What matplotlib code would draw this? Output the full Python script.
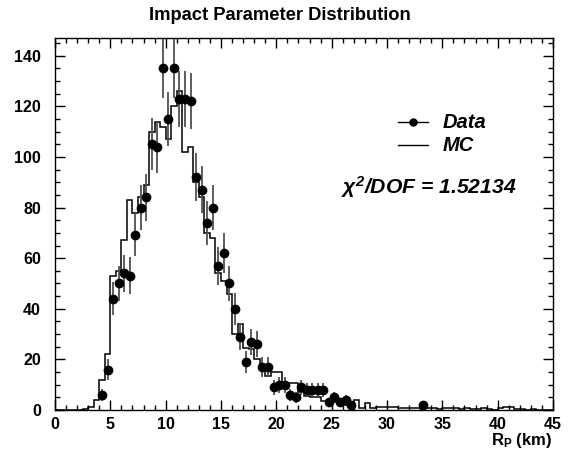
import numpy as np
import matplotlib
matplotlib.use("Agg")
import matplotlib.pyplot as plt
from matplotlib.ticker import MultipleLocator

plt.rcParams['font.family'] = ['Liberation Sans', 'DejaVu Sans']
plt.rcParams['mathtext.fontset'] = 'custom'
plt.rcParams['mathtext.rm'] = 'Liberation Sans:bold:italic'
plt.rcParams['mathtext.it'] = 'Liberation Sans:bold:italic'
plt.rcParams['mathtext.bf'] = 'Liberation Sans:bold'

# MC histogram, 0.5 km bins from 0 to 45 km (normalised to data)
mc_counts = [0, 0, 0, 0, 0, 0.3, 1.3, 4, 12, 22,
             53, 55, 67, 83, 78, 84, 89, 110, 114, 112,
             107, 120, 126, 102, 104, 90, 84, 70, 68, 54,
             51, 46, 30, 34, 24.5, 24, 20, 16, 13.5, 15,
             15, 11, 10.7, 10.7, 7, 5.5, 5.3, 5.3, 3.5, 3.3,
             3, 2.5, 2, 2, 4, 0.8, 2.8, 0.8, 1.3, 1.3,
             1.2, 1.2, 0.7, 0.7, 0.9, 0.9, 0.6, 0.9, 0.8, 0.5,
             0.6, 0.8, 0.6, 0.4, 0.7, 0.5, 0.3, 0.6, 0.3, 0.2,
             0.6, 1.2, 1.2, 0.4, 0.3, 0.2, 0.3, 0.1, 0.1, 0.1]

# data points (bin centres in km, counts)
data_rp = [4.25, 4.75, 5.25, 5.75, 6.25, 6.75, 7.25, 7.75, 8.25, 8.75,
           9.25, 9.75, 10.25, 10.75, 11.25, 11.75, 12.25, 12.75, 13.25, 13.75,
           14.25, 14.75, 15.25, 15.75, 16.25, 16.75, 17.25, 17.75, 18.25, 18.75,
           19.25, 19.75, 20.25, 20.75, 21.25, 21.75, 22.25, 22.75, 23.25, 23.75,
           24.25, 24.75, 25.25, 25.75, 26.25, 26.75, 33.25]
data_counts = [6, 16, 44, 50, 54, 53, 69, 80, 84, 105,
               104, 135, 115, 135, 123, 123, 122, 92, 87, 74,
               80, 57, 62, 50, 40, 29, 19, 27, 26, 17,
               17, 9, 10, 10, 6, 5, 9, 8, 8, 8,
               8, 3, 5, 3, 4, 2, 2]

chi2_dof = 1.52134

bin_edges = np.arange(0, 45.01, 0.5)
data_err = np.sqrt(np.array(data_counts, dtype=float))

fig = plt.figure(figsize=(5.71, 4.54), dpi=100)
ax = fig.add_axes([0.0963, 0.0969, 0.8722, 0.8194])

ax.stairs(mc_counts, bin_edges, color='black', lw=1.1, label='MC')
ax.errorbar(data_rp, data_counts, yerr=data_err, fmt='o', color='black',
            ecolor='#505050', elinewidth=1.3, markersize=6, capsize=0,
            label='Data')

ax.set_xlim(0, 45)
ax.set_ylim(0, 147)

ax.xaxis.set_major_locator(MultipleLocator(5))
ax.xaxis.set_minor_locator(MultipleLocator(1))
ax.yaxis.set_major_locator(MultipleLocator(20))
ax.yaxis.set_minor_locator(MultipleLocator(5))
ax.tick_params(which='both', direction='in', top=True, right=True, width=1)
ax.tick_params(which='major', length=7, labelsize=11.5)
ax.tick_params(which='minor', length=3.5)
ax.tick_params(axis='x', which='major', pad=5)
ax.tick_params(axis='y', which='major', pad=10)
for lab in ax.get_xticklabels() + ax.get_yticklabels():
    lab.set_fontweight('bold')
for s in ax.spines.values():
    s.set_linewidth(1.0)

fig.text(0.49, 0.966, 'Impact Parameter Distribution', ha='center', va='center',
         fontsize=13.2, fontweight='bold')
fig.text(0.968, 0.03, r'R$_\mathbf{P}$ (km)', ha='right', va='center',
         fontsize=12, fontweight='bold')

# legend drawn by hand in ROOT style
ax.plot([31.0, 33.7], [113.8, 113.8], color='black', lw=1)
ax.plot([32.35], [113.8], 'o', color='black', markersize=5)
ax.text(35.0, 113.8, 'Data', fontsize=14.5, fontweight='bold', style='italic',
        va='center', ha='left')
ax.plot([31.0, 33.7], [104.7, 104.7], color='black', lw=1)
ax.text(35.0, 104.7, 'MC', fontsize=14.5, fontweight='bold', style='italic',
        va='center', ha='left')

ax.text(25.8, 88.0, r'χ$^{2}$/DOF = %.5f' % chi2_dof, fontsize=15.2,
        fontweight='bold', style='italic', va='center', ha='left')

fig.savefig('out.png', dpi=100)
